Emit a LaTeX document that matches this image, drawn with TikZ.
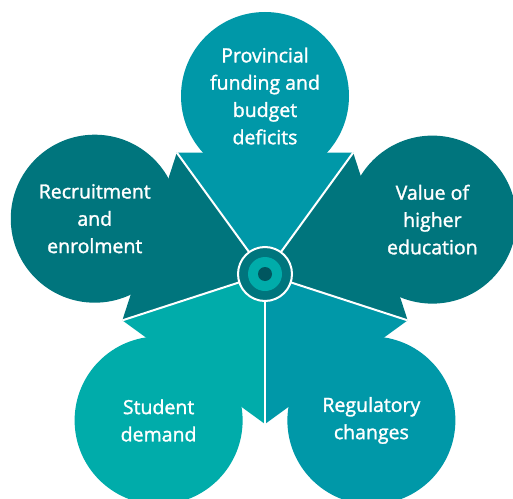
\documentclass[tikz,border=0pt]{standalone}
\usepackage{fontspec}
\setmainfont{Open Sans}
\newfontfamily\petalfont{Open Sans}[FakeBold=1.5]
\definecolor{tealdark}{HTML}{00757D}
\definecolor{tealmid}{HTML}{0098A8}
\definecolor{teallight}{HTML}{00ACAA}
\definecolor{tealdeep}{HTML}{00565F}
\tikzset{
  petaltext/.style={text=white, align=center, inner sep=0pt, font=\petalfont\fontsize{19.5}{27.3}\selectfont},
  divider/.style={white, line width=2pt},
}
\begin{document}
\begin{tikzpicture}[x=1pt,y=1pt]

  \useasboundingbox (-265,-224) rectangle (248,274); % 画布范围
  \clip (-265,-224) rectangle (248,274);             % 裁剪下方圆

  \coordinate (c) at (0,0);        % 中心
  \coordinate (k1) at (54:150);    % 花瓣分界点
  \coordinate (k2) at (126:150);
  \coordinate (k3) at (198:150);
  \coordinate (k4) at (270:150);
  \coordinate (k5) at (342:150);

  % 上方花瓣
  \fill[tealmid] (90:178) circle (84);                 % 圆
  \fill[tealmid] (c) -- (k1) -- (k2) -- cycle;         % 三角
  % 左上花瓣
  \fill[tealdark] (162:179) circle (84);
  \fill[tealdark] (c) -- (k2) -- (k3) -- cycle;
  % 左下花瓣
  \fill[teallight] (234:181) circle (84);
  \fill[teallight] (c) -- (k3) -- (k4) -- cycle;
  % 右下花瓣
  \fill[tealmid] (306:181) circle (84);
  \fill[tealmid] (c) -- (k4) -- (k5) -- cycle;
  % 右上花瓣
  \fill[tealdark] (18:176) circle (84);
  \fill[tealdark] (c) -- (k5) -- (k1) -- cycle;

  % 白色分界线
  \draw[divider] (c) -- (k1);
  \draw[divider] (c) -- (k2);
  \draw[divider] (c) -- (k3);
  \draw[divider] (c) -- (k4);
  \draw[divider] (c) -- (k5);

  % 中心圆环
  \node[circle, draw=white, line width=2pt, fill=tealdark, minimum size=54pt, inner sep=0pt] (hub) at (c) {};
  \fill[teallight] (hub.center) circle (17);           % 内圈
  \fill[tealdeep] (hub.center) circle (7);             % 圆心

  % 文字
  \node[petaltext] (funding) at (90:178) {Provincial\\funding and\\budget\\deficits};
  \node[petaltext] (recruit) at (162:179) {Recruitment\\and\\enrolment};
  \node[petaltext] (demand) at (234:181) {Student\\demand};
  \node[petaltext] (regulate) at (306:181) {Regulatory\\changes};
  \node[petaltext] (value) at (18:176) {Value of\\higher\\education};

\end{tikzpicture}
\end{document}
